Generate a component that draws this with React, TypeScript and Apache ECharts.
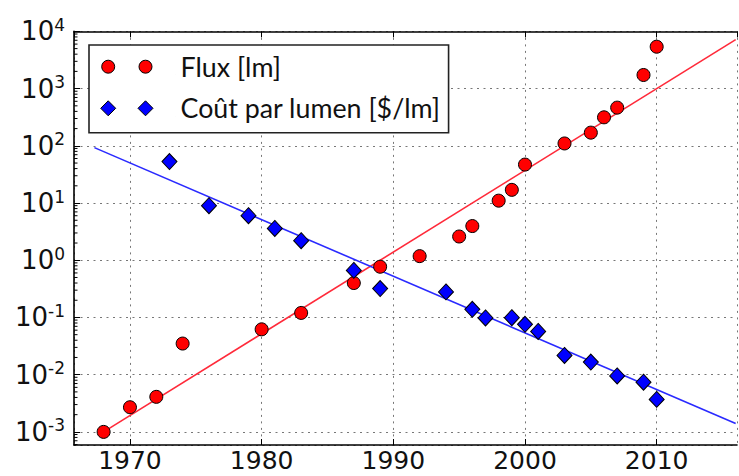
import React, { useEffect, useRef } from 'react';
import * as echarts from 'echarts';

// Flux [lm]
const fluxYears = [1968, 1970, 1972, 1974, 1980, 1983, 1987, 1989, 1992, 1995, 1996, 1998, 1999, 2000, 2003, 2005, 2006, 2007, 2009, 2010];
const fluxValues = [0.001, 0.0027, 0.0041, 0.035, 0.062, 0.12, 0.4, 0.77, 1.18, 2.6, 3.96, 11, 17, 47, 110, 170, 315, 465, 1730, 5400];
// Coût par lumen [$/lm]
const costYears = [1973, 1976, 1979, 1981, 1983, 1987, 1989, 1994, 1996, 1997, 1999, 2000, 2001, 2003, 2005, 2007, 2009, 2010];
const costValues = [53, 9.0, 6.0, 3.6, 2.2, 0.665, 0.32, 0.28, 0.139, 0.098, 0.099, 0.076, 0.057, 0.0217, 0.0166, 0.0095, 0.0074, 0.0037];
// fitted trend lines (end points)
const fluxFitYears = [1968, 2016];
const fluxFitValues = [0.001, 7200];
const costFitYears = [1967.3, 2016];
const costFitValues = [93, 0.0014];

const seriesNames = ['Flux [lm]', 'Coût par lumen [$/lm]'];
const X_MIN = 1965.75;
const X_MAX = 2016.1;
const Y_MIN = 5.9e-4;
const Y_MAX = 1e4;
const minorDecades = [-4, -3, -2, -1, 0, 1, 2, 3];
const minorFactors = [2, 3, 4, 5, 6, 7, 8, 9];

const circlesIcon =
  'path://M0,0L0.01,0M75,16L74.99,16' +
  'M1.2,8A6.5,6.5,0,1,0,14.2,8A6.5,6.5,0,1,0,1.2,8Z' +
  'M38.5,8A6.5,6.5,0,1,0,51.5,8A6.5,6.5,0,1,0,38.5,8Z';
const diamondsIcon =
  'path://M0,0L0.01,0M75,16L74.99,16' +
  'M7.7,0.5L15.2,8L7.7,15.5L0.2,8Z' +
  'M45,0.5L52.5,8L45,15.5L37.5,8Z';

export default function App() {
  const ref = useRef<HTMLDivElement>(null);
  useEffect(() => {
    if (!ref.current) return;
    const chart = echarts.init(ref.current, null, { renderer: 'svg' });
    const minorTicks: number[][] = [];
    minorDecades.forEach((d) => {
      minorFactors.forEach((f) => {
        const v = f * Math.pow(10, d);
        if (v > Y_MIN && v < Y_MAX) minorTicks.push([X_MIN, v]);
      });
    });
    const gridLine = { show: true, lineStyle: { color: '#777', width: 1, type: [2, 4.5] as any } };
    const axisLine = { show: true, lineStyle: { color: '#000', width: 1.6 } };
    chart.setOption({
      animation: false,
      backgroundColor: '#fff',
      grid: { left: 74, right: 2, top: 31.4, bottom: 31, containLabel: false },
      legend: {
        data: [
          { name: seriesNames[0], icon: circlesIcon, itemStyle: { color: '#ff0000', borderColor: '#000', borderWidth: 1 } },
          { name: seriesNames[1], icon: diamondsIcon, itemStyle: { color: '#0000ff', borderColor: '#000', borderWidth: 1 } },
        ],
        orient: 'vertical',
        left: 89,
        top: 45,
        itemWidth: 75,
        itemHeight: 16,
        itemGap: 13.6,
        padding: [7.7, 8, 10.4, 11],
        borderColor: '#222',
        borderWidth: 1.6,
        backgroundColor: '#fff',
        selectedMode: false,
        textStyle: { fontFamily: 'Lato', fontSize: 26.8, color: '#111', lineHeight: 28 },
      },
      xAxis: [
        {
          type: 'value',
          min: X_MIN,
          max: X_MAX,
          position: 'bottom',
          axisLine,
          axisTick: { show: true, inside: true, length: 6, lineStyle: { color: '#000', width: 1 } },
          axisLabel: {
            showMinLabel: false,
            showMaxLabel: false,
            fontFamily: 'DejaVu Sans',
            fontSize: 25,
            lineHeight: 20,
            color: '#111',
            margin: 5,
            formatter: (v: number) => String(Math.round(v)),
          },
          splitLine: gridLine,
        },
        {
          type: 'value',
          min: X_MIN,
          max: X_MAX,
          position: 'top',
          axisLine,
          axisTick: { show: true, inside: true, length: 6, lineStyle: { color: '#000', width: 1 } },
          axisLabel: { show: false },
          splitLine: { show: false },
        },
      ],
      yAxis: [
        {
          type: 'log',
          logBase: 10,
          min: Y_MIN,
          max: Y_MAX,
          position: 'left',
          axisLine,
          axisTick: { show: true, inside: true, length: 6, lineStyle: { color: '#000', width: 1 } },
          axisLabel: {
            showMinLabel: false,
            margin: 9,
            formatter: (v: number) => `{b|10}{s|${Math.round(Math.log10(v))}}`,
            rich: {
              b: { fontFamily: 'DejaVu Sans', fontSize: 26, color: '#111', lineHeight: 30 },
              s: { fontFamily: 'DejaVu Sans', fontSize: 17, color: '#111', lineHeight: 17, verticalAlign: 'top' },
            },
          },
          splitLine: gridLine,
        },
      ],
      series: [
        {
          type: 'line',
          data: fluxFitYears.map((y, i) => [y, fluxFitValues[i]]),
          symbol: 'none',
          lineStyle: { color: '#ff2a3a', width: 1.6 },
          z: 2,
          silent: true,
        },
        {
          type: 'line',
          data: costFitYears.map((y, i) => [y, costFitValues[i]]),
          symbol: 'none',
          lineStyle: { color: '#2a2aff', width: 1.6 },
          z: 2,
          silent: true,
        },
        {
          name: seriesNames[0],
          type: 'scatter',
          data: fluxYears.map((y, i) => [y, fluxValues[i]]),
          symbol: 'circle',
          symbolSize: 13,
          itemStyle: { color: '#ff0000', borderColor: '#000', borderWidth: 1, opacity: 1 },
          z: 4,
        },
        {
          name: seriesNames[1],
          type: 'scatter',
          data: costYears.map((y, i) => [y, costValues[i]]),
          symbol: 'diamond',
          symbolSize: [15, 16],
          itemStyle: { color: '#0000ff', borderColor: '#000', borderWidth: 1, opacity: 1 },
          z: 4,
        },
        {
          type: 'custom',
          silent: true,
          clip: false,
          z: 5,
          data: minorTicks,
          encode: { x: 0, y: 1 },
          renderItem: (params: any, api: any) => {
            const p = api.coord([api.value(0), api.value(1)]);
            return {
              type: 'line',
              shape: { x1: p[0], y1: p[1], x2: p[0] + 3.5, y2: p[1] },
              style: { stroke: '#000', lineWidth: 1 },
            };
          },
        },
      ],
    });
    return () => chart.dispose();
  }, []);
  return <div ref={ref} style={{ position: 'fixed', left: 0, top: 0, width: 739, height: 476 }} />;
}
